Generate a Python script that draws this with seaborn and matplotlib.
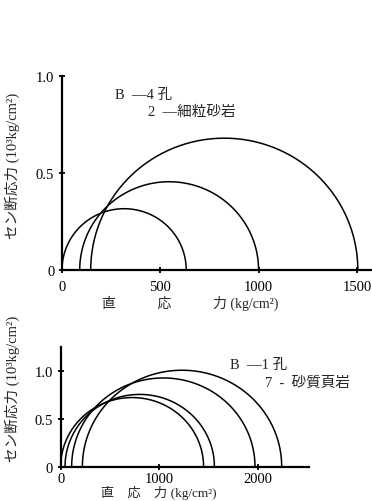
import numpy as np
import pandas as pd
import matplotlib
matplotlib.use("Agg")
import matplotlib.pyplot as plt
import seaborn as sns

# Mohr circles: minor / major principal stress (kg/cm2) for each test
upper_sigma3 = [0, 90, 146]
upper_sigma1 = [632, 1000, 1505]
lower_sigma3 = [0, 44, 111, 220]
lower_sigma1 = [1450, 1560, 1972, 2243]

upper_xticks = [0, 500, 1000, 1500]
upper_yticks = [0, 0.5, 1.0]
upper_yticklabels = ["0", "0.5", "1.0"]
lower_xticks = [0, 1000, 2000]
lower_yticks = [0, 0.5, 1.0]
lower_yticklabels = ["0", "0.5", "1.0"]

upper_note = ["B  —4 孔", "2  —細粒砂岩"]
lower_note = ["B  —1 孔", "7  -  砂質頁岩"]

ylabel_text = "セン断応力 (10³kg/cm²)"
upper_xlabel = "直　　　応　　　力 (kg/cm²)"
lower_xlabel = "直　応　力 (kg/cm²)"

sns.set_theme(style="ticks")
FAM = ["Liberation Serif", "Noto Sans CJK JP"]
plt.rcParams["font.family"] = FAM
plt.rcParams["axes.unicode_minus"] = False


def circle_frame(s3, s1, n=200):
    rows = []
    theta = np.linspace(np.pi, 0, n)
    for i, (a, b) in enumerate(zip(s3, s1)):
        c = (a + b) / 2.0
        r = (b - a) / 2.0
        x = c + r * np.cos(theta)
        y = r * np.sin(theta) / 1000.0
        rows.append(pd.DataFrame({"sigma": x, "tau": y, "circle": i}))
    return pd.concat(rows, ignore_index=True)


def style_axes(ax):
    sns.despine(ax=ax)
    for side in ("left", "bottom"):
        ax.spines[side].set_linewidth(1.6)
        ax.spines[side].set_color("black")
    ax.tick_params(direction="inout", length=5, width=1.3, colors="black",
                   labelsize=10.5, pad=3)
    ax.set_facecolor("white")


fig = plt.figure(figsize=(3.72, 5.02), dpi=100)
fig.patch.set_facecolor("white")

# upper panel
ax1 = fig.add_axes([62 / 372, 1 - 271 / 502, 310 / 372, 194 / 502])
sns.lineplot(data=circle_frame(upper_sigma3, upper_sigma1), x="sigma", y="tau",
             units="circle", estimator=None, sort=False, color="black",
             linewidth=1.1, ax=ax1)
ax1.set_xlim(0, 1577)
ax1.set_ylim(0, 1.0)
ax1.set_xticks(upper_xticks)
ax1.set_xticklabels([str(v) for v in upper_xticks])
ax1.set_yticks(upper_yticks)
ax1.set_yticklabels(upper_yticklabels)
style_axes(ax1)
ax1.tick_params(axis="x", pad=5)
ax1.set_xlabel(upper_xlabel, fontsize=10)
ax1.xaxis.set_label_coords(0.415, -0.13)
ax1.set_ylabel(ylabel_text, fontsize=10.5)
ax1.yaxis.set_label_coords(-0.135, 0.54)
ax1.text(270, 0.907, upper_note[0], fontsize=10.5, va="center", ha="left")
ax1.text(437, 0.82, upper_note[1], fontsize=10.5, va="center", ha="left")

# lower panel
ax2 = fig.add_axes([60.7 / 372, 1 - 467.7 / 502, 248.3 / 372, 119.7 / 502])
sns.lineplot(data=circle_frame(lower_sigma3, lower_sigma1), x="sigma", y="tau",
             units="circle", estimator=None, sort=False, color="black",
             linewidth=1.1, ax=ax2)
ax2.set_xlim(0, 2520)
ax2.set_ylim(0, 1.255)
ax2.set_xticks(lower_xticks)
ax2.set_xticklabels([str(v) for v in lower_xticks])
ax2.set_yticks(lower_yticks)
ax2.set_yticklabels(lower_yticklabels)
style_axes(ax2)
ax2.tick_params(axis="x", pad=1)
ax2.set_xlabel(lower_xlabel, fontsize=9.5)
ax2.xaxis.set_label_coords(0.395, -0.155)
ax2.set_ylabel(ylabel_text, fontsize=10.5)
ax2.yaxis.set_label_coords(-0.165, 0.66)
ax2.text(1719, 1.077, lower_note[0], fontsize=10.5, va="center", ha="left")
ax2.text(2073, 0.888, lower_note[1], fontsize=10.5, va="center", ha="left")

fig.savefig("out.png", dpi=100, facecolor="white")
